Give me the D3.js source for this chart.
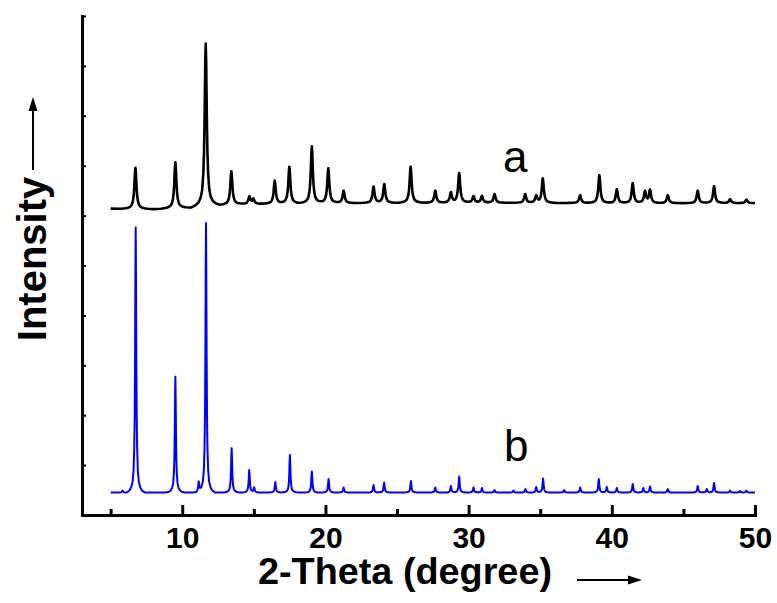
<!DOCTYPE html>
<html>
<head>
<meta charset="utf-8">
<script src="https://cdn.jsdelivr.net/npm/d3@7"></script>
<style>
  body { margin: 0; background: #fff; }
  svg { display: block; }
</style>
</head>
<body>
<div id="chart"></div>
<script>
const width = 777;
const height = 603;

// pattern a (measured): baseline points and peak tops, 2-theta in degrees
const baseAx = [5, 8, 10.5, 12.5, 14, 20, 30, 40, 50];
const baseAy = [614, 613, 616, 621, 623, 625, 626, 625, 625];
const peakAx = [6.73, 9.52, 11.64, 13.43, 14.69, 14.97, 16.46, 17.48, 19.05, 20.2,
                21.27, 23.36, 24.11, 25.95, 27.67, 28.76, 29.34, 30.34, 30.93, 31.81,
                33.95, 34.72, 35.18, 37.79, 39.13, 40.35, 41.46, 42.32, 42.67, 43.91,
                46.0, 47.14, 48.26, 49.4];
const peakAy = [696, 707, 945, 689, 638, 633, 670, 698, 739, 695,
                650, 658, 663, 698, 650, 646, 685, 639, 639, 643,
                643, 639, 674, 641, 681, 653, 665, 648, 651, 641,
                650, 659, 633, 632];

// pattern b (simulated)
const baseBx = [5, 50];
const baseBy = [45, 45];
const peakBx = [5.83, 6.75, 9.52, 11.15, 11.66, 13.45, 14.68, 15.02, 16.5, 17.52,
                19.05, 20.22, 21.27, 23.36, 24.1, 25.97, 27.67, 28.76, 29.34, 30.34,
                30.93, 31.81, 33.13, 33.97, 34.72, 35.2, 36.67, 37.79, 39.09, 39.65,
                40.35, 41.46, 42.2, 42.67, 43.91, 46.0, 46.63, 47.14, 48.26, 48.95, 49.4];
const peakBy = [49, 576, 277, 65, 585, 134, 90, 55, 66, 120,
                87, 72, 55, 60, 65, 68, 55, 58, 77, 55,
                54, 50, 49, 52, 56, 73, 50, 55, 72, 56,
                54, 62, 54, 57, 52, 58, 52, 64, 49, 48, 49];

const xMajor = [10, 20, 30, 40, 50];
const xMinor = [5, 15, 25, 35, 45];
const yTicks = [0, 100, 200, 300, 400, 500, 600, 700, 800, 900, 1000];

// peak outline (one side): offset in degrees, fraction of the peak height
const sideA = [[0, 1], [0.03, 0.89], [0.06, 0.67], [0.085, 0.5], [0.12, 0.33], [0.17, 0.2],
               [0.25, 0.1], [0.35, 0.056], [0.5, 0.028], [0.7, 0.012], [1.0, 0]];
const sideB = [[0, 1], [0.02, 0.83], [0.045, 0.5], [0.07, 0.29], [0.1, 0.17], [0.15, 0.083],
               [0.22, 0.04], [0.32, 0.019], [0.45, 0.007], [0.65, 0]];

function mirror(side) {
  return side.slice(1).reverse().map(s => [-s[0], s[1]]).concat(side);
}
const shapeA = mirror(sideA);
const shapeB = mirror(sideB);

function lin(xs, ys, x) {
  if (x <= xs[0]) return ys[0];
  if (x >= xs[xs.length - 1]) return ys[ys.length - 1];
  const i = d3.bisectRight(xs, x) - 1;
  const t = (x - xs[i]) / (xs[i + 1] - xs[i]);
  return ys[i] + t * (ys[i + 1] - ys[i]);
}

function shapeAt(shape, dx) {
  if (dx <= shape[0][0] || dx >= shape[shape.length - 1][0]) return 0;
  return lin(shape.map(s => s[0]), shape.map(s => s[1]), dx);
}

function buildSeries(bx, by, px, py, shape) {
  const hs = px.map((p, i) => py[i] - lin(bx, by, p));
  let xs = bx.slice();
  px.forEach(p => shape.forEach(s => xs.push(p + s[0])));
  xs = Array.from(new Set(xs.map(v => +v.toFixed(4))))
    .filter(v => v >= bx[0] && v <= bx[bx.length - 1])
    .sort((a, b) => a - b);
  return xs.map(x => {
    let y = lin(bx, by, x);
    px.forEach((p, i) => { y += hs[i] * shapeAt(shape, x - p); });
    return [x, y];
  });
}

const seriesA = buildSeries(baseAx, baseAy, peakAx, peakAy, shapeA);
const seriesB = buildSeries(baseBx, baseBy, peakBx, peakBy, shapeB);

const svg = d3.select("#chart").append("svg")
  .attr("width", width)
  .attr("height", height);

const x = d3.scaleLinear().domain([3, 50]).range([82, 755]);
const y = d3.scaleLinear().domain([0, 1000]).range([515, 16]);

const line = d3.line().x(d => x(d[0])).y(d => y(d[1]));

svg.append("path")
  .datum(seriesB)
  .attr("d", line)
  .attr("fill", "none")
  .attr("stroke", "#0000ff")
  .attr("stroke-width", 2)
  .attr("stroke-linejoin", "round");

svg.append("path")
  .datum(seriesA)
  .attr("d", line)
  .attr("fill", "none")
  .attr("stroke", "#000")
  .attr("stroke-width", 2.6)
  .attr("stroke-linejoin", "round");

const font = "'Liberation Sans', Arial, sans-serif";

// x axis: major ticks with labels, minor ticks without
const gx = svg.append("g").attr("transform", "translate(0,515)");
gx.call(d3.axisBottom(x).tickValues(xMajor).tickSize(-10).tickSizeOuter(0).tickPadding(12)
  .tickFormat(d3.format("d")));
gx.append("g").call(d3.axisBottom(x).tickValues(xMinor).tickSize(-6).tickFormat(""))
  .select(".domain").remove();
gx.selectAll("line").attr("stroke-width", 3);
gx.select(".domain").attr("stroke-width", 3).attr("stroke-linecap", "square");
gx.selectAll("text")
  .attr("font-family", font)
  .attr("font-weight", "bold")
  .attr("font-size", 30)
  .attr("fill", "#000");

// y axis: inward ticks, no labels
const gy = svg.append("g").attr("transform", "translate(82,0)");
gy.call(d3.axisLeft(y).tickValues(yTicks).tickSize(-4).tickSizeOuter(0).tickFormat(""));
gy.selectAll("line").attr("stroke-width", 2);
gy.select(".domain").attr("stroke-width", 3).attr("stroke-linecap", "square");

svg.append("text")
  .attr("x", 258).attr("y", 584)
  .attr("font-family", font).attr("font-weight", "bold").attr("font-size", 37)
  .attr("textLength", 294).attr("lengthAdjust", "spacingAndGlyphs")
  .text("2-Theta (degree)");

svg.append("text")
  .attr("transform", "translate(46,259) rotate(-90)")
  .attr("text-anchor", "middle")
  .attr("font-family", font).attr("font-weight", "bold").attr("font-size", 40)
  .text("Intensity");

// arrows beside the axis titles
svg.append("line").attr("x1", 577).attr("x2", 630).attr("y1", 580).attr("y2", 580)
  .attr("stroke", "#000").attr("stroke-width", 2);
svg.append("path").attr("d", "M642,580 L628,575.5 L628,584.5 Z").attr("fill", "#000");

svg.append("line").attr("x1", 33).attr("x2", 33).attr("y1", 170).attr("y2", 108)
  .attr("stroke", "#000").attr("stroke-width", 2);
svg.append("path").attr("d", "M33,97 L28.5,111 L37.5,111 Z").attr("fill", "#000");

svg.append("text")
  .attr("x", 503).attr("y", 172)
  .attr("font-family", font).attr("font-size", 44)
  .text("a");

svg.append("text")
  .attr("x", 504).attr("y", 461)
  .attr("font-family", font).attr("font-size", 44)
  .text("b");
</script>
</body>
</html>
